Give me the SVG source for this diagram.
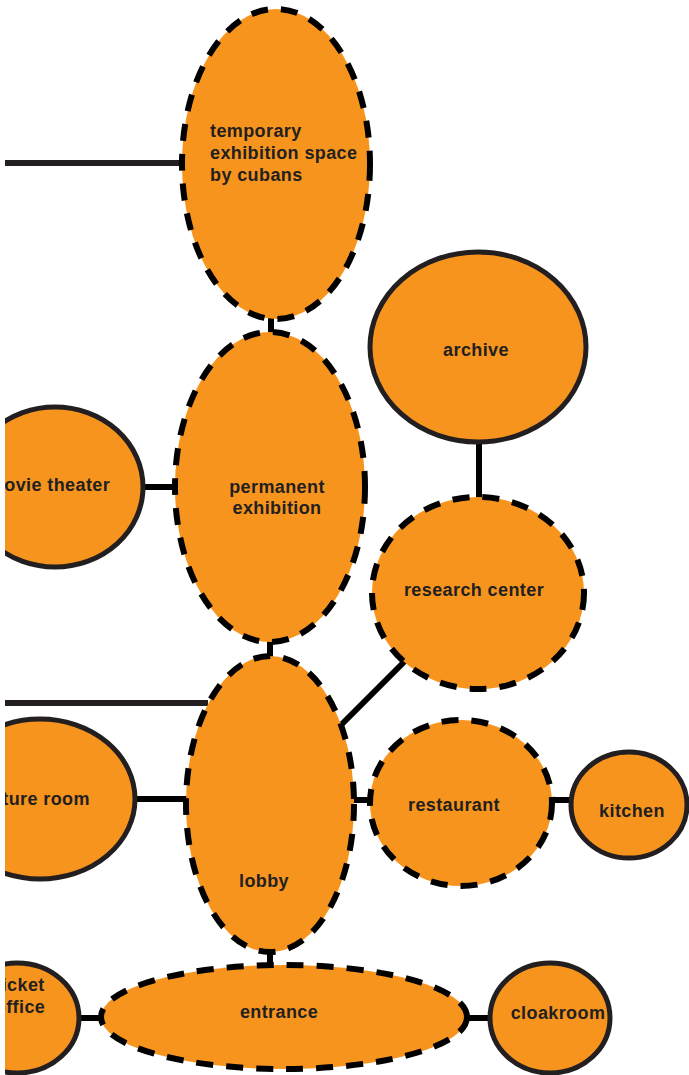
<svg xmlns="http://www.w3.org/2000/svg" width="689" height="1075" viewBox="0 0 689 1075">
<style>
.n{fill:#f7941d}
.d{stroke:#000;stroke-width:6;stroke-dasharray:17 13}
.s{stroke:#231f20;stroke-width:5}
.c{stroke:#000;stroke-width:6;fill:none}
.t{font-family:"Liberation Sans",Arial,sans-serif;font-weight:bold;font-size:18px;letter-spacing:0.4px;fill:#231f20;text-anchor:middle}
.l{text-anchor:start}
</style>
<defs><clipPath id="clip"><rect x="5" y="0" width="684" height="1075"/></clipPath></defs>
<rect width="689" height="1075" fill="#fff"/>
<g clip-path="url(#clip)">
<g id="connectors">
<line class="c" x1="5" y1="163" x2="184" y2="163" style="stroke:#231f20"/>
<line class="c" x1="271" y1="316" x2="271" y2="334"/>
<line class="c" x1="140" y1="487" x2="178" y2="487"/>
<line class="c" x1="479" y1="440" x2="479" y2="499"/>
<line class="c" x1="270" y1="640" x2="270" y2="658"/>
<line class="c" x1="5" y1="703" x2="208" y2="703" style="stroke:#231f20"/>
<line class="c" x1="405" y1="661" x2="342" y2="724"/>
<line class="c" x1="132" y1="799" x2="188" y2="799"/>
<line class="c" x1="352" y1="800" x2="372" y2="800"/>
<line class="c" x1="550" y1="800" x2="572" y2="800"/>
<line class="c" x1="270" y1="950" x2="270" y2="967"/>
<line class="c" x1="77" y1="1018" x2="104" y2="1018"/>
<line class="c" x1="466" y1="1018" x2="492" y2="1018"/>
</g>
<g id="temporary"><ellipse class="n d" cx="276" cy="164" rx="94" ry="155"/>
<text class="t l" x="210" y="137">temporary</text><text class="t l" x="210" y="159">exhibition space</text><text class="t l" x="210" y="181">by cubans</text></g>
<g id="permanent"><ellipse class="n d" cx="270" cy="487" rx="95" ry="155"/>
<text class="t" x="277" y="493">permanent</text><text class="t" x="277" y="514">exhibition</text></g>
<g id="movie"><ellipse class="n s" cx="55" cy="487" rx="88" ry="80"/>
<text class="t" x="49" y="491">movie theater</text></g>
<g id="archive"><ellipse class="n s" cx="478" cy="347" rx="108" ry="95"/>
<text class="t" x="476" y="356">archive</text></g>
<g id="research"><ellipse class="n d" cx="478" cy="593" rx="106" ry="96"/>
<text class="t" x="474" y="596">research center</text></g>
<g id="lobby"><ellipse class="n d" cx="270" cy="804" rx="84" ry="148"/>
<text class="t" x="264" y="887">lobby</text></g>
<g id="lecture"><ellipse class="n s" cx="40" cy="799" rx="95" ry="80"/>
<text class="t" x="33" y="805">lecture room</text></g>
<g id="restaurant"><ellipse class="n d" cx="461" cy="803" rx="91" ry="83"/>
<text class="t" x="454" y="811">restaurant</text></g>
<g id="kitchen"><ellipse class="n s" cx="629" cy="805" rx="58" ry="53"/>
<text class="t" x="632" y="817">kitchen</text></g>
<g id="entrance"><ellipse class="n d" cx="284" cy="1017" rx="183" ry="52"/>
<text class="t" x="279" y="1018">entrance</text></g>
<g id="ticket"><ellipse class="n s" cx="17" cy="1018" rx="62" ry="55"/>
<text class="t" x="20" y="991">ticket</text><text class="t" x="20" y="1013">office</text></g>
<g id="cloakroom"><ellipse class="n s" cx="550" cy="1018" rx="60" ry="55"/>
<text class="t" x="558" y="1019">cloakroom</text></g>
</g>
</svg>
